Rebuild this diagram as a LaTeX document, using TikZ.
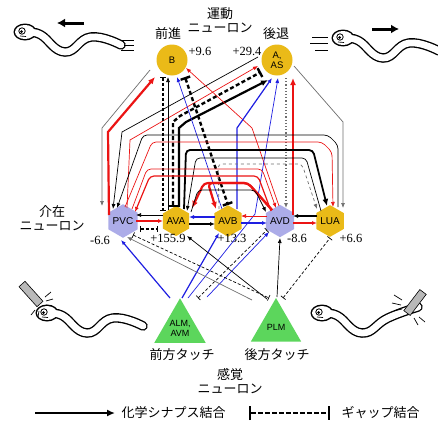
\documentclass[tikz,border=0pt]{standalone}
\usepackage{fontspec}
\setmainfont{Liberation Serif}
\newfontfamily\jpfont{Noto Sans CJK JP}
\newfontfamily\arialfont{Liberation Sans}
\usetikzlibrary{shapes.geometric,arrows.meta,calc}
\definecolor{gold}{RGB}{234,186,24}
\definecolor{lav}{RGB}{172,172,232}
\definecolor{grn}{RGB}{92,214,92}
\definecolor{rd}{RGB}{235,20,20}
\definecolor{bl}{RGB}{30,30,225}
\definecolor{gry}{RGB}{110,110,110}
\tikzset{
  motor/.style={circle,fill=gold,minimum size=31pt,inner sep=0pt,align=center,font=\arialfont\fontsize{9.5}{10}\selectfont},
  hexa/.style={regular polygon,regular polygon sides=6,shape border rotate=30,minimum size=30pt,inner sep=0pt,font=\arialfont\fontsize{10}{11}\selectfont},
  touch/.style={regular polygon,regular polygon sides=3,minimum size=58pt,inner sep=0pt,fill=grn,align=center,font=\arialfont\fontsize{9}{10}\selectfont},
  jp/.style={font=\jpfont\fontsize{13}{14}\selectfont,align=center},
  num/.style={font=\fontsize{12.5}{14}\selectfont},
  tn/.style={line width=0.7pt},
  md/.style={line width=1.2pt},
  fat/.style={line width=2.2pt},
  chem/.style={-{Latex[length=5pt,width=4pt]}},
  chemb/.style={-{Latex[length=7pt,width=6pt]}},
  gap/.style={dash pattern=on 3pt off 2pt,{Bar[width=6pt]}-{Bar[width=6pt]}},
  gapb/.style={line width=2.4pt,dash pattern=on 4pt off 2.5pt,{Bar[width=10pt]}-{Bar[width=10pt]}},
  worm/.pic={
    \draw[line width=9.5pt,line cap=round] plot[smooth,tension=0.8] coordinates {(5,1) (16,3) (40,20) (66,5) (96,#1)};
    \fill (0,0) ellipse (11.5pt and 8.5pt);
    \fill[white] (0,0) ellipse (10pt and 7pt);
    \draw[white,line width=6.8pt,line cap=round] plot[smooth,tension=0.8] coordinates {(5,1) (16,3) (40,20) (66,5) (96,#1)};
    \draw[line width=0.8pt] (-3,-1) circle (3.2pt);
    \fill (-3.5,-0.5) circle (1.5pt);
    \draw[line width=0.7pt] (-5,4) -- (1,4.5);
  }
}
\begin{document}
\begin{tikzpicture}[x=1pt,y=-1pt]
\useasboundingbox (0,0) rectangle (438,423);
\node[motor] (B) at (172,60) {B};
\node[motor] (A) at (277,60) {A,\\AS};
\foreach \n/\x/\c in {PVC/123/lav,AVA/176/gold,AVB/228/gold,AVD/280/lav,LUA/330/gold}
  \node[hexa,fill=\c] (\n) at (\x,221) {\n};
\node[touch] (ALM) at (180,328) {ALM,\\AVM};
\node[touch] (PLM) at (276,327) {PLM};

\node[jp] (lbmotor) at (220,20) {運動\\ニューロン};
\node[jp] (lbfwd) at (168,34) {前進};
\node[jp] (lbbwd) at (276,34) {後退};
\node[jp] (lbinter) at (52,218) {介在\\ニューロン};
\node[jp] (lbtouchA) at (182,355) {前方タッチ};
\node[jp] (lbtouchP) at (277,355) {後方タッチ};
\node[jp] (lbsense) at (230,381) {感覚\\ニューロン};
\node[num] (vB) at (200,51) {+9.6};
\node[num] (vA) at (247,51) {+29.4};
\node[num] (vPVC) at (100,240) {-6.6};
\node[num] (vAVA) at (168,238) {+155.9};
\node[num] (vAVB) at (232,238) {+13.3};
\node[num] (vAVD) at (297,238) {-8.6};
\node[num] (vLUA) at (351,238) {+6.6};

\draw[tn,gry,chem] ($(B)+(-22,10)$) -- (102,128) -- ($(PVC)+(-21,-15)$);
\draw[fat,rd,chemb] ($(PVC)+(-14,-6)$) -- (108,132) -- ($(B)+(-17,17)$);
\draw[tn,chem] ($(A)+(-19,-3)$) -- (122,132) -- ($(PVC)+(-10,-12)$);
\draw[tn,rd,chem] ($(PVC)+(4,-13)$) -- (130,140) -- ($(A)+(-19,6)$);

\draw[gap,md] ($(B)+(-9,17)$) -- ($(AVA)+(-13,-10)$);
\draw[tn,chem] ($(AVA)+(-8,-11)$) -- ($(B)+(-4,17)$);
\draw[gapb] ($(AVA)+(-3,-14)$) -- (173,122) -- (180,116) -- ($(A)+(-16,12)$);
\draw[fat,chemb] ($(AVA)+(3,-14)$) -- (179,128) -- (186,122) -- ($(A)+(-9,20)$);
\draw[gapb] ($(B)+(13,17)$) -- ($(AVB)+(0,-16)$);
\draw[tn,bl,chem] ($(AVB)+(-6,-12)$) -- ($(B)+(5,17)$);
\draw[tn,rd,chem] ($(AVD)+(-1,-15)$) -- (252,128) -- ($(B)+(14,8)$);
\draw[md,bl,chem] ($(AVB)+(9,-12)$) -- (237,128) -- ($(A)+(-5,18)$);
\draw[tn,bl,chem] ($(ALM)+(8,-30)$) -- (255,214) -- ($(A)+(1,18)$);
\draw[md,gry,dotted,chem] ($(A)+(9,18)$) -- ($(AVD)+(6,-13)$);
\draw[fat,rd,chemb] ($(AVD)+(13,-6)$) -- ($(A)+(16,18)$);
\draw[tn,gry,chem] ($(A)+(17,6)$) -- (343,122) -- ($(LUA)+(13,-13)$);

\draw[tn,chem,rounded corners=4pt] ($(LUA)+(8,-14)$) -- (338,145) -- (328,135) -- (143,135) -- ($(PVC)+(-6,-13)$);
\draw[tn,rd,chem,rounded corners=4pt] ($(PVC)+(2,-14)$) -- (152,142) -- (322,142) -- (332,152) -- ($(LUA)+(3,-14)$);
\draw[line width=1.8pt,chemb,rounded corners=4pt] ($(AVA)+(8,-12)$) -- (186,150) -- (313,150) -- ($(LUA)+(-3,-15)$);
\draw[tn,chem,rounded corners=4pt] ($(LUA)+(-9,-10)$) -- (306,158) -- (196,158) -- ($(AVA)+(11,-10)$);
\draw[tn,gry,dashed,chem,rounded corners=4pt] ($(AVB)+(-9,-12)$) -- (218,164) -- (302,164) -- ($(LUA)+(-13,-12)$);
\draw[tn,rd,chem,rounded corners=4pt] ($(PVC)+(9,-12)$) -- (147,169) -- (262,169) -- ($(AVD)+(-4,-13)$);
\draw[md,rd,chem,rounded corners=4pt] ($(AVD)+(-9,-10)$) -- (258,176) -- (150,176) -- ($(PVC)+(12,-9)$);
\draw[fat,rd,chemb,rounded corners=4pt] ($(AVD)+(-8,-11)$) -- (248,183) -- (204,183) -- ($(AVA)+(16,-13)$);
\draw[fat,rd,chemb,rounded corners=4pt] ($(AVD)+(-8,-11)$) -- (248,183) -- (208,183) -- ($(AVB)+(-12,-12)$);
\draw[tn,chem,rounded corners=4pt] ($(AVA)+(15,-9)$) -- (198,190) -- (255,190) -- ($(AVD)+(-14,-9)$);

\draw[tn,chem] ($(AVA)+(-13,-6)$) -- ($(PVC)+(13,-6)$);
\draw[md,rd,chem] ($(PVC)+(13,0)$) -- ($(AVA)+(-13,0)$);
\draw[gap,md] ($(PVC)+(17,8)$) -- ($(AVA)+(-18,8)$);
\draw[md,bl,chem] ($(AVB)+(-13,-4)$) -- ($(AVA)+(13,-4)$);
\draw[md,chem] ($(AVA)+(13,3)$) -- ($(AVB)+(-13,3)$);
\draw[tn,rd,chem] ($(AVD)+(-13,-5)$) -- ($(AVB)+(13,-5)$);
\draw[md,bl,chem] ($(AVB)+(13,2)$) -- ($(AVD)+(-13,2)$);
\draw[md,chem] ($(LUA)+(-13,-5)$) -- ($(AVD)+(13,-5)$);
\draw[md,rd,chem] ($(AVD)+(13,2)$) -- ($(LUA)+(-13,2)$);

\draw[md,bl,chem] ($(ALM)+(-10,-30)$) -- ($(PVC)+(-2,19)$);
\draw[md,bl,chem] ($(ALM)+(2,-30)$) -- ($(AVB)+(-9,12)$);
\draw[tn,bl,chem] ($(ALM)+(27,-31)$) -- ($(AVD)+(-11,11)$);
\draw[gap,tn] ($(ALM)+(18,-30)$) -- ($(AVD)+(-13,9)$);
\draw[tn,chem] ($(PLM)+(-9,-28)$) -- ($(AVA)+(11,15)$);
\draw[tn,gry,chem] ($(PLM)+(-24,-27)$) -- ($(PVC)+(4,16)$);
\draw[gap,tn] ($(PVC)+(10,14)$) -- ($(PLM)+(-7,-29)$);
\draw[tn,chem] ($(PLM)+(1,-30)$) -- ($(AVD)+(0,17)$);
\draw[gap,tn] ($(PLM)+(7,-29)$) -- ($(LUA)+(0,17)$);

\pic at (25,32) {worm=13};
\pic at (343,38) {worm=13};
\pic at (47,313) {worm=13};
\pic at (322,313) {worm=-6};
\draw[line width=3pt,-{Latex[length=8pt,width=9pt]}] (84,23) -- (57,23);
\draw[line width=3pt,-{Latex[length=8pt,width=9pt]}] (372,29) -- (399,29);
\foreach \y/\a in {40/121,45/124,50/121} \draw[line width=0.9pt] (\a,\y) -- (134,\y);
\foreach \y/\a in {37/312,43/310,50/315} \draw[line width=0.9pt] (\a,\y) -- (328,\y);
\filldraw[fill=gray!55,line width=0.6pt] (25,281.3) -- (43,301.3) -- (37,306.7) -- (19,286.7) -- cycle;
\draw[tn] (45,297) -- (51,292) (46,301) -- (53,299) (46,305) -- (52,306) (35,310) -- (31,315) (39,311) -- (38,317);
\filldraw[fill=gray!55,line width=0.6pt] (426.2,294.4) -- (410.2,315.4) -- (403.8,310.6) -- (419.8,289.6) -- cycle;
\draw[tn] (402,300) -- (394,295) (401,305) -- (392,303) (402,309) -- (394,311) (414,318) -- (418,325) (419,317) -- (425,322);

\coordinate (lgchem) at (35,413);
\node[jp,anchor=west] (txchem) at (118,413) {化学シナプス結合};
\draw[line width=2pt,-{Latex[length=8pt,width=7pt]}] (lgchem) -- ([xshift=-3pt]txchem.west);
\coordinate (lggap) at (249,413);
\node[jp,anchor=west] (txgap) at (338,413) {ギャップ結合};
\draw[gapb,dash pattern=on 5pt off 2pt,{Bar[width=14pt]}-{Bar[width=14pt]}] (lggap) -- ([xshift=-8pt]txgap.west);
\end{tikzpicture}
\end{document}
